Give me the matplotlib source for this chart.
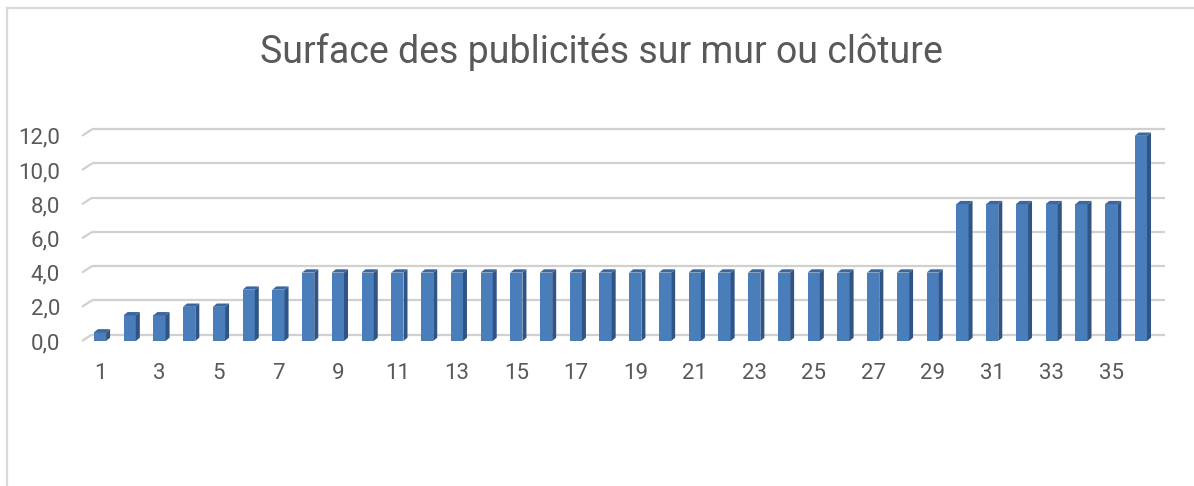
import numpy as np
import matplotlib.pyplot as plt
from matplotlib.patches import Polygon
from matplotlib.lines import Line2D

plt.rcParams['font.family'] = ['Roboto', 'DejaVu Sans']

# données
numeros = list(range(1, 37))
surfaces = [0.5, 1.5, 1.5, 2, 2, 3, 3] + [4] * 22 + [8] * 6 + [12]
graduations = [0, 2, 4, 6, 8, 10, 12]

titre = "Surface des publicités sur mur ou clôture"
gris_texte = '#595959'
bleu_face = '#4a7ebb'
bleu_cote = '#2f5485'
bleu_haut = '#3b679e'

W, H = 1194, 486
fig = plt.figure(figsize=(W / 100, H / 100), dpi=100)

# cadre partiel (haut et gauche)
fig.add_artist(Line2D([7 / W, 1.0], [1 - 8.5 / H, 1 - 8.5 / H], color='#d9d9d9', lw=1.6))
fig.add_artist(Line2D([7 / W, 7 / W], [0, 1 - 8.5 / H], color='#d9d9d9', lw=1.6))

# axes calés sur les pixels de la référence
px_x = 29.74   # px par barre
px_y = 17.1    # px par unité
x0, x1 = 0.395, 36.8
y1 = 12.8
ax = fig.add_axes([82 / W, (H - 341) / H, (x1 - x0) * px_x / W, y1 * px_y / H])
ax.set_xlim(x0, x1)
ax.set_ylim(0, y1)

# profondeur du mur arrière et des barres
mur_dx = 10 / px_x
mur_dy = 6.5 / px_y
bar_w = 0.41
bar_dx = 4 / px_x
bar_dy = 3.3 / px_y

# lignes de grille 3D
for g in graduations:
    ax.plot([x0, x0 + mur_dx], [g, g + mur_dy], color='#d0d0d0', lw=1.6,
            solid_capstyle='butt', zorder=1, clip_on=False)
    ax.plot([x0 + mur_dx, x1], [g + mur_dy, g + mur_dy], color='#d0d0d0', lw=1.6,
            solid_capstyle='butt', zorder=1, clip_on=False)

# barres : face avant + côté + dessus
ax.bar(numeros, surfaces, width=bar_w, color=bleu_face, zorder=3)
for n, v in zip(numeros, surfaces):
    xr = n + bar_w / 2
    xl = n - bar_w / 2
    cote = Polygon([(xr, 0), (xr + bar_dx, bar_dy), (xr + bar_dx, v + bar_dy), (xr, v)],
                   closed=True, color=bleu_cote, lw=0, zorder=3)
    haut = Polygon([(xl, v), (xl + bar_dx, v + bar_dy), (xr + bar_dx, v + bar_dy), (xr, v)],
                   closed=True, color=bleu_haut, lw=0, zorder=3)
    ax.add_patch(cote)
    ax.add_patch(haut)

ax.set_yticks(graduations)
ax.set_yticklabels([f"{g:.1f}".replace('.', ',') for g in graduations])
ax.set_xticks(numeros[::2])
ax.set_xticklabels([str(n) for n in numeros[::2]])
ax.tick_params(axis='both', length=0, labelsize=16, labelcolor=gris_texte)
ax.tick_params(axis='y', pad=15.8)
ax.tick_params(axis='x', pad=15.8)
for s in ax.spines.values():
    s.set_visible(False)
ax.patch.set_visible(False)

fig.text(0.5035, 1 - 52 / H, titre, ha='center', va='center', fontsize=27, color=gris_texte)

fig.savefig('out.png', dpi=100)
